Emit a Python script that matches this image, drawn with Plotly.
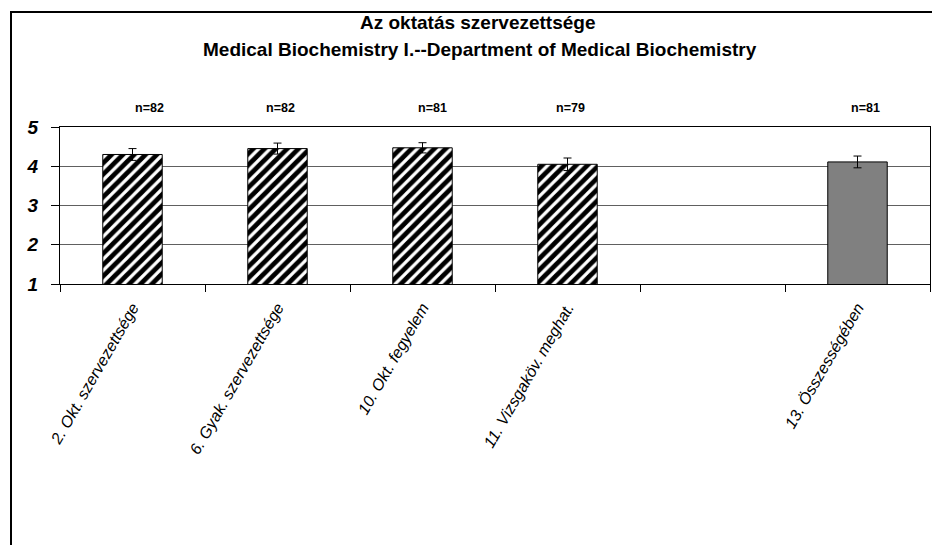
import plotly.graph_objects as go

categories = ["2. Okt. szervezettsége", "6. Gyak. szervezettsége", "10. Okt. fegyelem",
              "11. Vizsgaköv. meghat.", " ", "13. Összességében"]
item_labels = categories[:4]
item_means = [4.30, 4.45, 4.47, 4.05]
item_err = [0.15, 0.14, 0.13, 0.16]
overall_label = [categories[5]]
overall_mean = [4.11]
overall_err = [0.15]
n_labels = ["n=82", "n=82", "n=81", "n=79", "n=81"]
n_cats = [categories[0], categories[1], categories[2], categories[3], categories[5]]
n_shift = [17, 3, 10, 3, 8]

FONT = "Liberation Sans, Arial, sans-serif"

fig = go.Figure()
fig.add_trace(go.Bar(
    x=item_labels, y=item_means, width=0.41,
    marker=dict(color="white", line=dict(color="black", width=1),
                pattern=dict(shape="/", fgcolor="black", bgcolor="white", fgopacity=1,
                             fillmode="replace", size=8, solidity=0.6)),
    error_y=dict(type="data", array=item_err, color="black", thickness=1, width=4),
    showlegend=False))
fig.add_trace(go.Bar(
    x=overall_label, y=overall_mean, width=0.41,
    marker=dict(color="#808080", line=dict(color="black", width=1)),
    error_y=dict(type="data", array=overall_err, color="black", thickness=1, width=4),
    showlegend=False))

W, H = 940, 545
OFF = 8  # page body offset
L, R, T, B = 60 - OFF, 18, 127 - OFF, 545 - (284 - OFF)
pw, ph = W - L - R, H - T - B

def px(x):
    return (x - OFF - L) / pw

def py(y):
    return (H - B - (y - OFF)) / ph

annotations = [
    dict(text="<b>Az oktatás szervezettsége</b>", x=px(478), y=py(23), xref="paper", yref="paper",
         showarrow=False, font=dict(size=19, family=FONT, color="black"), xanchor="center", yanchor="middle"),
    dict(text="<b>Medical Biochemistry I.--Department of Medical Biochemistry</b>", x=px(480), y=py(49),
         xref="paper", yref="paper", showarrow=False, font=dict(size=19, family=FONT, color="black"),
         xanchor="center", yanchor="middle"),
]
for lab, c, s in zip(n_labels, n_cats, n_shift):
    annotations.append(dict(text=f"<b>{lab}</b>", x=c, y=py(108), xref="x", yref="paper", xshift=s,
                            showarrow=False, font=dict(size=12.5, family=FONT, color="black"),
                            xanchor="center", yanchor="middle"))

fig.update_layout(
    width=W, height=H, margin=dict(l=L, r=R, t=T, b=B),
    paper_bgcolor="white", plot_bgcolor="white", barmode="overlay",
    font=dict(family=FONT, color="black"),
    annotations=annotations,
    shapes=[dict(type="rect", xref="paper", yref="paper", x0=px(11), x1=px(960), y0=py(570), y1=py(12),
                 line=dict(color="black", width=2), fillcolor="rgba(0,0,0,0)", layer="above")],
    xaxis=dict(type="category", categoryorder="array", categoryarray=categories,
               showline=True, linecolor="black", linewidth=1, mirror=True,
               ticks="outside", tickson="boundaries", ticklen=7, tickcolor="black",
               tickangle=-60, ticklabelstandoff=7,
               tickfont=dict(size=16, family=FONT, style="italic", color="black"),
               showgrid=False, range=[-0.5, 5.5]),
    yaxis=dict(range=[1, 5], dtick=1, showline=True, linecolor="black", linewidth=1, mirror=True,
               ticks="outside", ticklen=8, tickcolor="black", ticklabelstandoff=9,
               tickfont=dict(size=19, family=FONT, style="italic", weight="bold", color="black"),
               showgrid=True, gridcolor="#606060", gridwidth=1, zeroline=False),
)

fig.write_html("out.html")
